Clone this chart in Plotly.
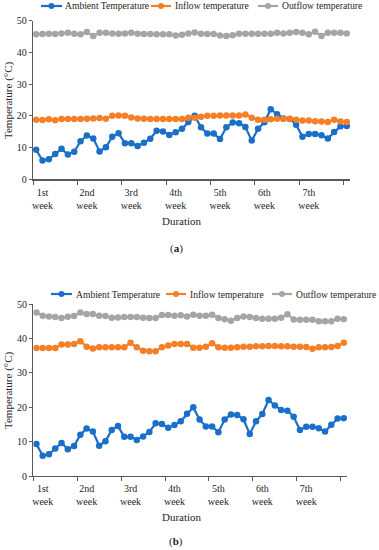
import plotly.graph_objects as go

W, H = 379, 550

# ---------------- data ----------------
x_index = list(range(50))
week_labels = ["1st<br>week", "2nd<br>week", "3rd<br>week", "4th<br>week",
               "5th<br>week", "6th<br>week", "7th<br>week"]
week_label_pos = [1, 8, 15, 22, 29, 36, 43]
y_ticks = [0, 10, 20, 30, 40, 50]

ambient = [9.3, 5.9, 6.3, 8.0, 9.6, 7.8, 8.7, 12.0, 13.8, 12.9,
           8.8, 10.1, 13.4, 14.5, 11.4, 11.4, 10.5, 11.5, 12.8, 15.3,
           15.1, 14.0, 14.8, 15.9, 18.1, 20.0, 16.4, 14.4, 14.4, 12.7,
           16.4, 17.9, 17.7, 16.5, 12.2, 15.9, 18.0, 22.1, 20.5, 19.2,
           19.0, 17.2, 13.4, 14.3, 14.3, 13.9, 12.9, 14.9, 16.7, 16.8]

inflow_a = [18.8, 18.7, 18.9, 18.6, 19.0, 19.0, 19.0, 19.0, 19.1, 19.2,
            19.3, 19.1, 20.0, 20.1, 20.0, 19.5, 19.2, 19.1, 19.0, 19.0,
            19.0, 19.0, 19.0, 19.0, 19.4, 19.4, 19.7, 20.0, 20.0, 20.1,
            20.1, 20.1, 20.1, 20.4, 19.4, 18.8, 18.8, 18.9, 19.1, 19.1,
            19.1, 18.8, 18.5, 18.5, 18.3, 18.2, 18.1, 18.8, 18.2, 18.1]

outflow_a = [45.7, 45.8, 45.9, 45.8, 46.0, 46.2, 45.9, 45.7, 46.4, 45.2,
             46.2, 46.2, 46.0, 45.9, 46.0, 46.2, 45.9, 45.8, 45.8, 45.7,
             45.7, 45.7, 45.3, 45.6, 46.0, 46.3, 45.9, 45.8, 45.8, 45.3,
             45.2, 45.4, 45.9, 45.9, 45.9, 45.9, 45.9, 45.9, 46.2, 46.0,
             46.2, 46.4, 46.2, 45.7, 46.5, 45.2, 46.2, 46.2, 46.2, 46.0]

inflow_b = [37.2, 37.2, 37.2, 37.2, 38.2, 38.2, 38.4, 39.2, 37.6, 37.1,
            37.4, 37.4, 37.4, 37.4, 37.4, 38.7, 37.4, 36.4, 36.3, 36.3,
            37.4, 37.9, 38.4, 38.4, 38.4, 37.3, 37.3, 37.6, 38.6, 37.4,
            37.3, 37.3, 37.4, 37.6, 37.6, 37.7, 37.7, 37.8, 37.8, 37.7,
            37.7, 37.6, 37.6, 37.5, 37.0, 37.4, 37.4, 37.5, 37.8, 38.7]

outflow_b = [47.5, 46.6, 46.4, 46.2, 45.9, 46.3, 46.5, 47.5, 47.1, 47.1,
             46.6, 46.5, 46.0, 46.1, 46.2, 46.2, 46.2, 46.0, 45.9, 45.9,
             46.8, 46.8, 46.6, 46.7, 46.4, 46.9, 46.6, 46.6, 46.9, 45.9,
             45.6, 45.1, 45.9, 46.4, 46.2, 45.9, 45.7, 45.7, 45.7, 46.0,
             47.0, 45.5, 45.4, 45.4, 45.4, 45.0, 45.0, 45.0, 45.7, 45.6]

series_names = ["Ambient Temperature", "Inflow temperature", "Outflow temperature"]
colors = ["#1a6fc9", "#f47f26", "#a5a5a5"]

# ---------------- figure ----------------
FONT = "Liberation Serif, Times New Roman, serif"
TXT = "#262626"
AX = "#595959"


def px_x(p):
    return p / W


def px_y(p):
    return 1 - p / H


fig = go.Figure()

panels = [
    ("x", "y", [ambient, inflow_a, outflow_a]),
    ("x2", "y2", [ambient, inflow_b, outflow_b]),
]
for xa, ya, data in panels:
    for name, col, vals in zip(series_names, colors, data):
        fig.add_trace(go.Scatter(
            x=x_index, y=vals, name=name, xaxis=xa, yaxis=ya,
            mode="lines+markers", showlegend=False,
            line=dict(color=col, width=2.2),
            marker=dict(color=col, size=6.5),
        ))

xcommon = dict(
    range=[-0.5, 49.5], tickvals=week_label_pos, ticktext=week_labels,
    ticks="", showgrid=False, zeroline=False, showline=True,
    linecolor=AX, linewidth=1.3, automargin=False, ticklabelstandoff=3,
    tickfont=dict(family=FONT, size=10, color=TXT),
    minor=dict(tick0=-0.5, dtick=7, ticks="outside", ticklen=4,
               tickcolor=AX, tickwidth=1, showgrid=False),
    fixedrange=True,
)
ycommon = dict(
    range=[0, 50], tickvals=y_ticks, ticks="outside", ticklen=3,
    tickcolor=AX, showgrid=False, zeroline=False, showline=True,
    linecolor=AX, linewidth=1.3, automargin=False,
    tickfont=dict(family=FONT, size=10, color=TXT), fixedrange=True,
)

fig.update_layout(
    width=W, height=H, margin=dict(l=0, r=0, t=0, b=0),
    paper_bgcolor="white", plot_bgcolor="white", showlegend=False,
    font=dict(family=FONT, color=TXT), hovermode=False,
    xaxis=dict(domain=[px_x(33), px_x(350)], anchor="y", **xcommon),
    yaxis=dict(domain=[px_y(179.3), px_y(20.7)], anchor="x", **ycommon),
    xaxis2=dict(domain=[px_x(33.3), px_x(347)], anchor="y2", **xcommon),
    yaxis2=dict(domain=[px_y(476), px_y(304)], anchor="x2", **ycommon),
)

# ---------------- legends (drawn as key glyphs + text) ----------------
legend_rows = [
    (6, [(41, 62, 63), (151, 171, 173), (258, 278, 280)]),
    (294, [(51, 72, 74), (166, 186, 188), (272, 292, 294)]),
]
for ypx, items in legend_rows:
    for (s0, s1, t0), name, col in zip(items, series_names, colors):
        fig.add_shape(type="line", xref="paper", yref="paper",
                      x0=px_x(s0), x1=px_x(s1), y0=px_y(ypx), y1=px_y(ypx),
                      line=dict(color=col, width=2.2))
        cx = (s0 + s1) / 2
        fig.add_shape(type="circle", xref="paper", yref="paper",
                      x0=px_x(cx - 3), x1=px_x(cx + 3),
                      y0=px_y(ypx + 3), y1=px_y(ypx - 3),
                      fillcolor=col, line=dict(color=col, width=0))
        fig.add_annotation(xref="paper", yref="paper", showarrow=False,
                           x=px_x(t0), y=px_y(ypx), xanchor="left",
                           yanchor="middle", text=name,
                           font=dict(family=FONT, size=9.6, color=TXT))

annots = [
    dict(text="Duration", x=px_x(182), y=px_y(220.7)),
    dict(text="Duration", x=px_x(182), y=px_y(516.7)),
    dict(text="(<b>a</b>)", x=px_x(176), y=px_y(248)),
    dict(text="(<b>b</b>)", x=px_x(176), y=px_y(541.7)),
    dict(text="Temperature (°C)", x=px_x(8), y=px_y(100), textangle=-90),
    dict(text="Temperature (°C)", x=px_x(8), y=px_y(390), textangle=-90),
]
for a in annots:
    fig.add_annotation(xref="paper", yref="paper", showarrow=False,
                       xanchor="center", yanchor="middle",
                       font=dict(family=FONT, size=11, color=TXT), **a)

fig.write_html(
    "out.html",
    config={"displayModeBar": False, "staticPlot": True},
    post_script="document.body.style.margin='0px';"
                "document.body.style.overflow='hidden';",
)
